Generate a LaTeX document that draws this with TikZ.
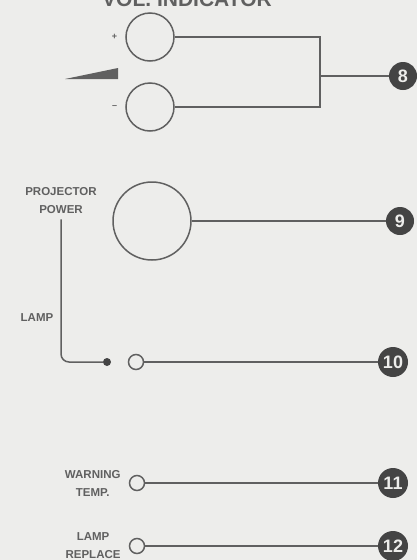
\documentclass[tikz,border=0pt]{standalone}
\usepackage{fontspec}
\setmainfont{Liberation Sans}
\usepackage{xcolor}
\usetikzlibrary{positioning, calc}
\definecolor{paper}{HTML}{EDEDEB}
\definecolor{ink}{HTML}{606060}
\definecolor{badgeink}{HTML}{444444}

\begin{document}
\begin{tikzpicture}[
    x=1pt, y=-1pt,
    lamp/.style={draw=ink, circle, line width=1.5pt, inner sep=0pt},
    badge/.style={circle, fill=badgeink, text=paper, inner sep=0pt, minimum size=28pt, font=\fontsize{18}{18}\selectfont\bfseries},
    lbl/.style={text=ink, align=center, inner sep=0pt, font=\fontsize{11.5}{18}\selectfont\bfseries},
    wire/.style={draw=ink, line width=1.5pt},
]
\useasboundingbox (0,0) rectangle (417,560);
\clip (0,0) rectangle (417,560);
\fill[paper] (0,0) rectangle (417,560);
% Title (cut off at the top)
\node[text=ink, anchor=base, inner sep=0pt, font=\fontsize{21}{21}\selectfont\bfseries] (title) at (187,6) {VOL. INDICATOR};
% Volume indicator
\node[lamp, minimum size=48pt] (volplus) at (150,37) {};
\node[lamp, minimum size=48pt] (volminus) at (150,107) {};
\node[lbl, font=\fontsize{9}{9}\selectfont\bfseries, left=8pt of volplus] (plus) {+};
\node[lbl, font=\fontsize{9}{9}\selectfont\bfseries, left=8pt of volminus] (minus) {--};
\fill[ink] (65,79) -- (118,68) -- (118,79) -- cycle;
\coordinate (join) at (320,76);
\node[badge] (b8) at (403,76) {8};
\draw[wire] (volplus.east) -| (join) |- (volminus.east);
\draw[wire] (join) -- (b8);
% Projector power
\node[lamp, minimum size=78pt] (power) at (152,221) {};
\node[lbl] (pwrlabel) at (61,201) {PROJECTOR\\POWER};
\node[badge] (b9) at (400,221) {9};
\draw[wire] (power.east) -- (b9);
% Lamp
\node[lbl] (lamplabel) at (37,318) {LAMP};
\node[circle, fill=badgeink, inner sep=0pt, minimum size=8pt] (lampdot) at (107,362) {};
\node[lamp, minimum size=15pt] (lampled) at (136,362) {};
\node[badge, minimum size=30pt] (b10) at (393,362) {10};
\draw[wire, rounded corners=8pt] (pwrlabel.south) ++(0,5) |- (lampdot);
\draw[wire] (lampled.east) -- (b10);
% Warning temp.
\node[lamp, minimum size=15pt] (templed) at (137,483) {};
\node[lbl, left=8pt of templed] (templabel) {WARNING\\TEMP.};
\node[badge, minimum size=30pt] (b11) at (393,483) {11};
\draw[wire] (templed.east) -- (b11);
% Lamp replace
\node[lamp, minimum size=15pt] (replled) at (137,546) {};
\node[lbl, left=8pt of replled] (repllabel) {LAMP\\REPLACE};
\node[badge, minimum size=30pt] (b12) at (393,546) {12};
\draw[wire] (replled.east) -- (b12);
\end{tikzpicture}
\end{document}
